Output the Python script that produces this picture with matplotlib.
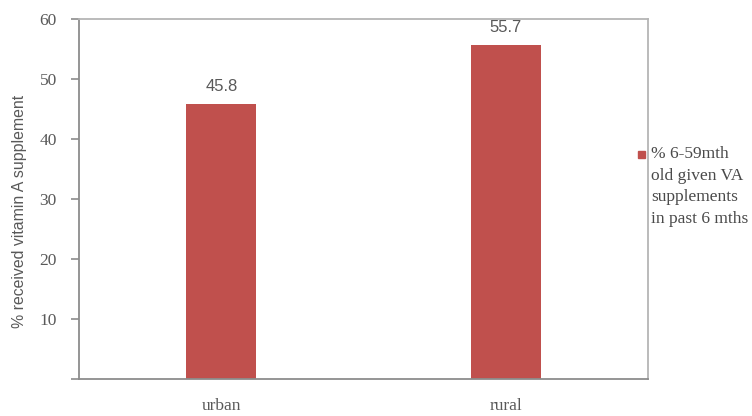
import matplotlib.pyplot as plt
from matplotlib.patches import Rectangle
import numpy as np

# data
categories = ['urban', 'rural']
values = [45.8, 55.7]
series_name = '% 6-59mth\nold given VA\nsupplements\nin past 6 mths'
yticks = [0, 10, 20, 30, 40, 50, 60]
ytick_labels = ['', '10', '20', '30', '40', '50', '60']

bar_color = '#C0504D'
text_color = '#595959'

fig = plt.figure(figsize=(7.52, 4.16), dpi=100)
ax = fig.add_axes([79 / 752, 37 / 416, (648 - 79) / 752, (379 - 19) / 416])

x = np.arange(len(categories))
bars = ax.bar(x, values, width=0.246, color=bar_color)

# value labels above bars
for xi, v in zip(x, values):
    ax.text(xi, v + 2.9, f'{v}', ha='center', va='center', fontsize=12,
            family='Liberation Sans', color=text_color)

ax.set_xlim(-0.5, 1.5)
ax.set_ylim(0, 60)
ax.set_yticks(yticks)
ax.set_yticklabels(ytick_labels, family='Liberation Serif', fontsize=12.5,
                   color=text_color)
ax.set_xticks(x)
ax.set_xticklabels(categories, family='Liberation Serif', fontsize=12.5, color=text_color)
ax.tick_params(axis='x', length=0, pad=14)
ax.tick_params(axis='y', length=6, width=1.2, color='#8c8c8c', pad=10)

ax.set_ylabel('% received vitamin A supplement', family='Liberation Sans', fontsize=11.4,
              color=text_color)
ax.yaxis.set_label_coords(-0.0914, 0.465)

for side in ['left', 'bottom']:
    ax.spines[side].set_color('#8c8c8c')
    ax.spines[side].set_linewidth(1.3)
for side in ['top', 'right']:
    ax.spines[side].set_color('#b5b5b5')
    ax.spines[side].set_linewidth(1.3)

# legend drawn by hand so the line spacing matches
fig.patches.append(Rectangle((638 / 752, 1 - 158 / 416), 7 / 752, 7 / 416,
                             transform=fig.transFigure, color=bar_color))
fig.text(651 / 752, 1 - 146 / 416, series_name, ha='left', va='top',
         family='Liberation Serif', fontsize=12.5, color='#4a4a4a', linespacing=1.47)

fig.savefig('out.png', dpi=100)
